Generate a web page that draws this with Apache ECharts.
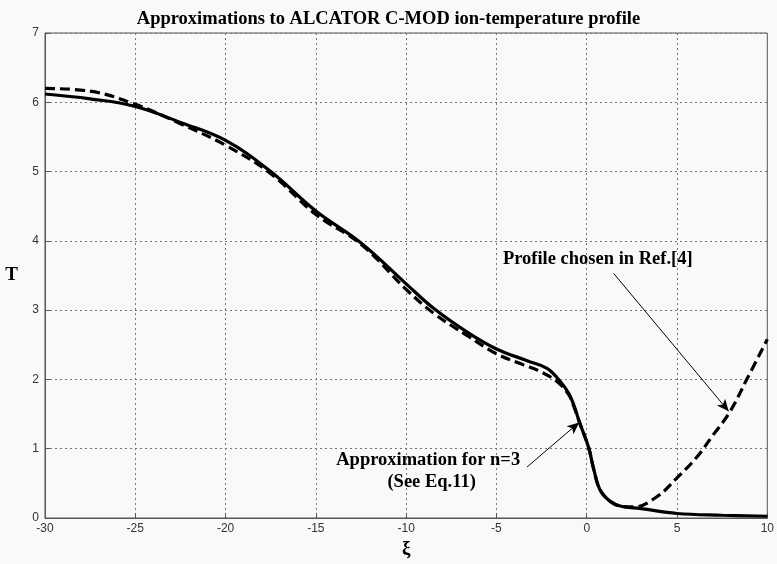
<!DOCTYPE html>
<html>
<head>
<meta charset="utf-8">
<script src="https://cdn.jsdelivr.net/npm/echarts@6/dist/echarts.min.js"></script>
<style>
  html, body { margin: 0; padding: 0; background: #f9f9f7; }
  #main { width: 777px; height: 564px; }
</style>
</head>
<body>
<div id="main"></div>
<script>
// approximation for n=3 (solid)
var approxXi = [-30, -27.5, -25, -22.5, -20, -17.5, -15, -12.5, -10, -8.5, -6.6, -5, -3.3, -2.2, -1.5, -1.0, -0.7, -0.4, 0.1, 0.4, 0.75, 1.3, 1.9, 3, 5, 7.5, 10];
var approxT  = [6.12, 6.05, 5.94, 5.71, 5.45, 5.0, 4.43, 3.97, 3.38, 3.03, 2.68, 2.44, 2.27, 2.16, 1.98, 1.80, 1.62, 1.38, 1.02, 0.69, 0.40, 0.24, 0.17, 0.135, 0.065, 0.04, 0.025];
// profile chosen in Ref.[4] (dashed)
var refXi = [-30, -27.5, -25, -22.5, -20, -17.5, -15, -12.5, -10, -8.5, -6.6, -5, -3.5, -2.7, -1.65, -1.0, -0.7, -0.4, 0.1, 0.4, 0.75, 1.3, 1.9, 2.6, 3.9, 5, 6.1, 7, 7.9, 8.9, 10];
var refT  = [6.2, 6.16, 5.97, 5.69, 5.38, 4.97, 4.38, 3.95, 3.3, 2.96, 2.63, 2.37, 2.21, 2.13, 1.97, 1.78, 1.6, 1.38, 1.02, 0.69, 0.40, 0.24, 0.17, 0.16, 0.31, 0.58, 0.88, 1.2, 1.52, 2.02, 2.58];

var titleText = 'Approximations to ALCATOR C-MOD ion-temperature profile';
var xTicks = [-30, 10, 5];   // min, max, step
var yTicks = [0, 7, 1];

var notes = [
  { name: 'Profile chosen in Ref.[4]', value: [0.61, 3.73] },
  { name: 'Approximation for n=3', value: [-8.78, 0.83] },
  { name: '(See Eq.11)', value: [-8.59, 0.52] }
];
var arrows = [
  [[1.49, 3.53], [7.86, 1.54]],
  [[-3.31, 0.735], [-0.42, 1.38]]
];

function pairs(xs, ys) {
  return xs.map(function (x, i) { return [x, ys[i]]; });
}

var serif = '"Liberation Serif", "DejaVu Serif", serif';
var sans = '"Liberation Sans", Arial, sans-serif';

var myChart = echarts.init(document.getElementById('main'));
var option = {
  backgroundColor: '#f9f9f7',
  animation: false,
  title: {
    text: titleText,
    left: 'center',
    top: 5,
    textStyle: { fontFamily: serif, fontWeight: 'bold', fontSize: 18.5, color: '#000' }
  },
  grid: {
    left: 45, right: 9, top: 33, bottom: 39,
    show: true, borderColor: '#555', borderWidth: 1, backgroundColor: '#f9f9f7'
  },
  xAxis: {
    type: 'value',
    min: xTicks[0], max: xTicks[1], interval: xTicks[2],
    name: 'ξ',
    nameLocation: 'middle',
    nameGap: 22,
    nameTextStyle: { fontFamily: serif, fontWeight: 'bold', fontSize: 19, color: '#000' },
    axisLine: { onZero: false, lineStyle: { color: '#555' } },
    axisTick: { inside: true, length: 5, lineStyle: { color: '#555' } },
    axisLabel: { fontFamily: sans, fontSize: 12, color: '#333', margin: 5 },
    splitLine: { show: true, lineStyle: { color: '#777', type: [2, 3], width: 1 } }
  },
  yAxis: {
    type: 'value',
    min: yTicks[0], max: yTicks[1], interval: yTicks[2],
    name: 'T',
    nameLocation: 'middle',
    nameRotate: 0,
    nameGap: 27,
    nameTextStyle: { fontFamily: serif, fontWeight: 'bold', fontSize: 19, color: '#000' },
    axisLine: { onZero: false, lineStyle: { color: '#555' } },
    axisTick: { inside: true, length: 5, lineStyle: { color: '#555' } },
    axisLabel: { fontFamily: sans, fontSize: 12, color: '#333', margin: 6 },
    splitLine: { show: true, lineStyle: { color: '#777', type: [2, 3], width: 1 } }
  },
  series: [
    {
      name: 'Ref',
      type: 'line',
      data: pairs(refXi, refT),
      smooth: 0.4,
      symbol: 'none',
      lineStyle: { color: '#000', width: 3.2, type: [10, 5] },
      z: 3
    },
    {
      name: 'Approx',
      type: 'line',
      data: pairs(approxXi, approxT),
      smooth: 0.4,
      symbol: 'none',
      lineStyle: { color: '#000', width: 3.2, type: 'solid' },
      z: 4
    },
    {
      name: 'notes',
      type: 'scatter',
      data: notes,
      symbolSize: 0,
      silent: true,
      itemStyle: { color: '#000', opacity: 1 },
      label: {
        show: true,
        position: 'inside',
        formatter: function (p) { return p.name; },
        fontFamily: serif,
        fontWeight: 'bold',
        fontSize: 18.5,
        color: '#000',
        textBorderWidth: 0
      },
      markLine: {
        silent: true,
        symbol: ['none', 'arrow'],
        symbolSize: [8, 12],
        label: { show: false },
        lineStyle: { color: '#000', width: 1, type: 'solid', opacity: 1 },
        data: arrows.map(function (a) {
          return [{ coord: a[0] }, { coord: a[1] }];
        })
      },
      z: 5
    }
  ]
};
myChart.setOption(option);
</script>
</body>
</html>
